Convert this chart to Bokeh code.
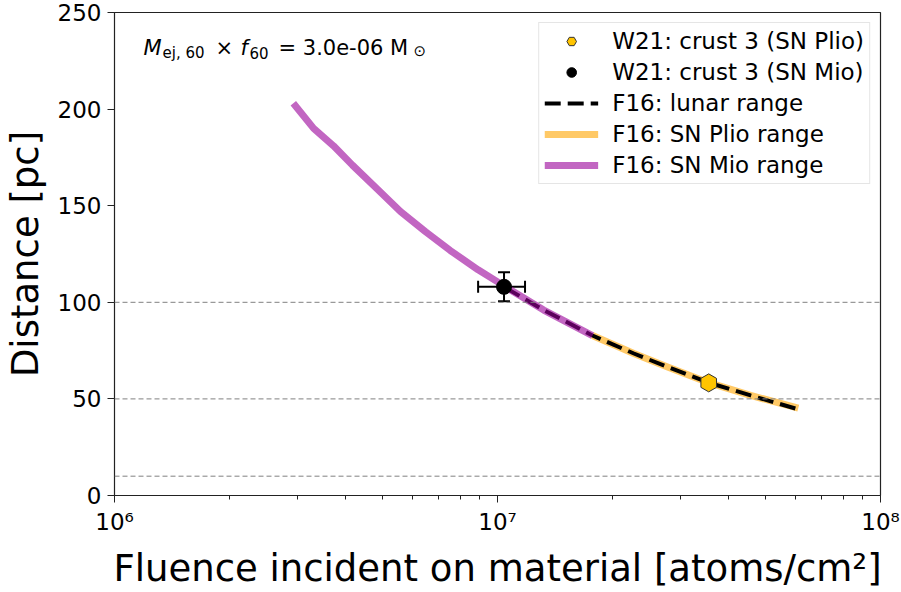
import numpy as np
from bokeh.plotting import figure
from bokeh.models import (ColumnDataSource, Whisker, TeeHead, Span, Label, Legend,
                          LegendItem, FixedTicker, CustomJSTickFormatter, Range1d)
from bokeh.embed import file_html
from bokeh.resources import INLINE

# ---------------- data ----------------
mio_x = [2.93e6, 3.31e6, 3.73e6, 4.18e6, 4.86e6, 5.58e6, 6.49e6, 7.53e6, 8.9e6, 1.04e7, 1.32e7, 1.77e7]
mio_y = [203, 190, 181, 171, 158.5, 147, 136.5, 126.8, 116.8, 108.5, 96, 82.8]

plio_x = [1.77e7, 2.27e7, 2.78e7, 3.56e7, 4.58e7, 6.1e7]
plio_y = [82.8, 73.5, 66.5, 58.4, 51.8, 45.2]

lunar_x = [1.05e7, 1.32e7, 1.77e7, 2.27e7, 2.78e7, 3.56e7, 4.58e7, 6.0e7]
lunar_y = [107.5, 96, 82.8, 73.5, 66.5, 58.4, 51.8, 45]

w21_mio_x = [1.04e7]
w21_mio_y = [108]
w21_mio_xlo = [8.9e6]
w21_mio_xhi = [1.18e7]
w21_mio_ylo = [100.5]
w21_mio_yhi = [115.5]

w21_plio_x = [3.56e7]
w21_plio_y = [58.3]
w21_plio_xlo = [3.46e7]
w21_plio_xhi = [3.66e7]
w21_plio_ylo = [57.0]
w21_plio_yhi = [59.6]

ref_distances = [10, 50, 100]

x_major = [1e6, 1e7, 1e8]
x_minor = [2e6, 3e6, 4e6, 5e6, 6e6, 7e6, 8e6, 9e6,
           2e7, 3e7, 4e7, 5e7, 6e7, 7e7, 8e7, 9e7]
y_ticks = [0, 50, 100, 150, 200, 250]

legend_labels = ["W21: crust 3 (SN Plio)", "W21: crust 3 (SN Mio)",
                 "F16: lunar range", "F16: SN Plio range", "F16: SN Mio range"]

FONT = "DejaVu Sans"

p = figure(width=901, height=592, x_axis_type="log",
           x_range=Range1d(1e6, 1e8), y_range=Range1d(0, 250),
           output_backend="svg", toolbar_location=None,
           min_border_left=114, min_border_right=21,
           min_border_top=12, min_border_bottom=91)
p.grid.visible = False
p.outline_line_color = "#222222"
p.outline_line_width = 1.2
p.background_fill_color = "white"
p.border_fill_color = "white"

# reference horizontal lines
for d in ref_distances:
    p.add_layout(Span(location=d, dimension="width", line_color="gray",
                      line_dash="5 3", line_width=1))

# curves
r_plio = p.line(plio_x, plio_y, line_color="orange", line_alpha=0.6, line_width=7,
                line_join="round")
r_lunar = p.line(lunar_x, lunar_y, line_color="black", line_width=4, line_dash="16 7")
r_mio = p.line(mio_x, mio_y, line_color="#990099", line_alpha=0.6, line_width=7,
               line_join="round")

# error bars
src_mio = ColumnDataSource(dict(x=w21_mio_x, y=w21_mio_y, xlo=w21_mio_xlo, xhi=w21_mio_xhi,
                                ylo=w21_mio_ylo, yhi=w21_mio_yhi))
src_plio = ColumnDataSource(dict(x=w21_plio_x, y=w21_plio_y, xlo=w21_plio_xlo, xhi=w21_plio_xhi,
                                 ylo=w21_plio_ylo, yhi=w21_plio_yhi))
for src, col in ((src_mio, "black"), (src_plio, "#f0b400")):
    p.add_layout(Whisker(source=src, base="y", lower="xlo", upper="xhi", dimension="width",
                         line_color=col, line_width=2,
                         upper_head=TeeHead(size=12, line_color=col, line_width=2),
                         lower_head=TeeHead(size=12, line_color=col, line_width=2)))
    p.add_layout(Whisker(source=src, base="x", lower="ylo", upper="yhi", dimension="height",
                         line_color=col, line_width=2,
                         upper_head=TeeHead(size=12, line_color=col, line_width=2),
                         lower_head=TeeHead(size=12, line_color=col, line_width=2)))

r_wmio = p.scatter("x", "y", source=src_mio, marker="circle", size=15,
                   fill_color="black", line_color="black")
r_wplio = p.scatter("x", "y", source=src_plio, marker="hex", size=18, angle=np.pi / 6,
                    fill_color="#ffc400", line_color="#333333", line_width=1)

# legend
legend = Legend(items=[
    LegendItem(label=legend_labels[0], renderers=[r_wplio]),
    LegendItem(label=legend_labels[1], renderers=[r_wmio]),
    LegendItem(label=legend_labels[2], renderers=[r_lunar]),
    LegendItem(label=legend_labels[3], renderers=[r_plio]),
    LegendItem(label=legend_labels[4], renderers=[r_mio]),
], location="top_right")
legend.label_text_font = FONT
legend.label_text_font_size = "23px"
legend.label_text_color = "black"
legend.glyph_width = 54
legend.glyph_height = 24
legend.label_height = 24
legend.spacing = 5
legend.padding = 5
legend.margin = 10
legend.label_standoff = 14
legend.border_line_color = "#cccccc"
legend.border_line_width = 1
legend.background_fill_alpha = 0.8
p.add_layout(legend)

# axes
p.xaxis.ticker = FixedTicker(ticks=x_major, minor_ticks=x_minor)
p.xaxis.formatter = CustomJSTickFormatter(code="""
    const sup = {"0":"\u2070","1":"\u00b9","2":"\u00b2","3":"\u00b3","4":"\u2074",
                 "5":"\u2075","6":"\u2076","7":"\u2077","8":"\u2078","9":"\u2079"};
    const e = String(Math.round(Math.log10(tick)));
    return "10" + e.split("").map(c => sup[c]).join("");
""")
p.yaxis.ticker = FixedTicker(ticks=y_ticks)
for ax in (p.xaxis, p.yaxis):
    ax.major_label_text_font = FONT
    ax.major_label_text_font_size = "23px"
    ax.major_label_text_color = "black"
    ax.axis_label_text_font = FONT
    ax.axis_label_text_font_size = "37px"
    ax.axis_label_text_font_style = "normal"
    ax.axis_label_text_color = "black"
    ax.axis_line_color = "#222222"
    ax.major_tick_line_color = "#222222"
    ax.minor_tick_line_color = "#222222"
    ax.major_tick_out = 7
    ax.major_tick_in = 0
    ax.minor_tick_out = 4
    ax.minor_tick_in = 0
    ax.major_label_standoff = 6
p.yaxis.minor_tick_line_color = None
p.xaxis.axis_label = "Fluence incident on material [atoms/cm\u00b2]"
p.yaxis.axis_label = "Distance [pc]"
p.xaxis.axis_label_standoff = 9
p.yaxis.axis_label_standoff = 8

# annotation text: M_ej,60 x f_60 = 3.0e-06 M_sun
pieces = [
    ("M", 29, -35, "21px", "italic"),
    ("ej, 60", 48, -40, "15px", "normal"),
    ("\u00d7", 101, -35, "21px", "normal"),
    ("f", 126, -35, "21px", "italic"),
    ("60", 135, -40, "15px", "normal"),
    ("= 3.0e-06 M", 164, -35, "21px", "normal"),
    ("\u2299", 299, -38, "15px", "normal"),
]
for txt, xo, yo, fs, st in pieces:
    p.add_layout(Label(x=1e6, y=250, x_offset=xo, y_offset=yo, text=txt,
                       text_font=FONT, text_font_size=fs, text_font_style=st,
                       text_baseline="alphabetic", text_align="left", text_color="black"))

open("out.html", "w").write(file_html(p, INLINE))
